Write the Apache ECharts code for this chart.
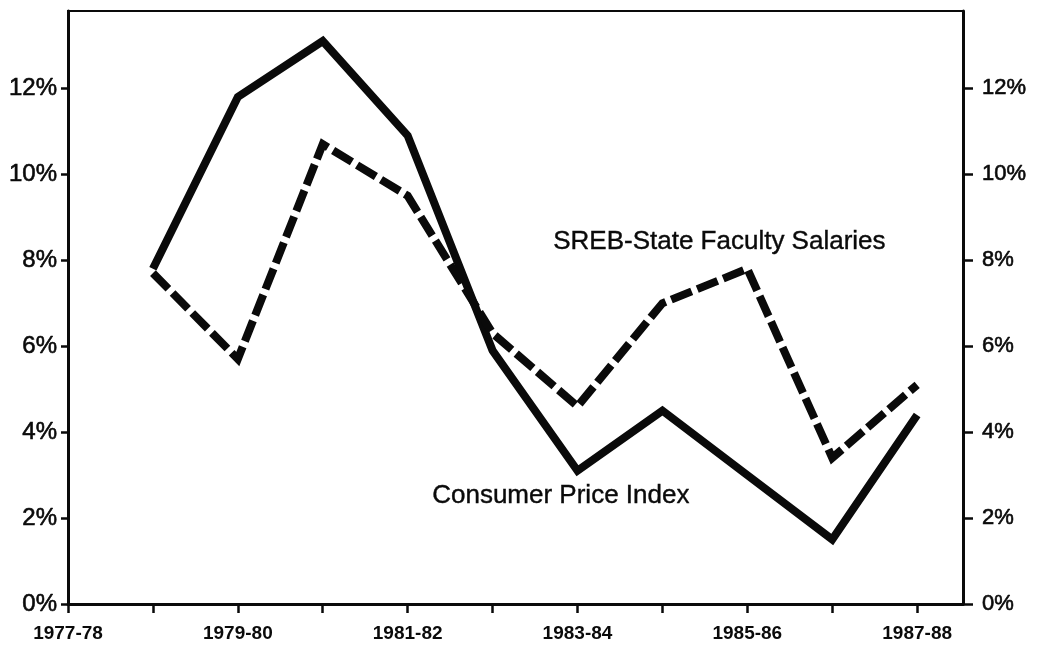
<!DOCTYPE html>
<html>
<head>
<meta charset="utf-8">
<script src="https://cdn.jsdelivr.net/npm/echarts@6/dist/echarts.min.js"></script>
<style>
  html, body { margin: 0; padding: 0; background: #fff; }
  #chart { width: 1039px; height: 647px; }
</style>
</head>
<body>
<div id="chart"></div>
<script>
// ---- data ----
const years = ['1977-78', '1978-79', '1979-80', '1980-81', '1981-82', '1982-83',
               '1983-84', '1984-85', '1985-86', '1986-87', '1987-88'];
const cpi = [null, 7.8, 11.8, 13.1, 10.9, 5.9, 3.1, 4.5, 3.0, 1.5, 4.4];
const facultySalaries = [null, 7.7, 5.7, 10.7, 9.5, 6.3, 4.6, 7.0, 7.8, 3.4, 5.1];
const yTicks = [0, 2, 4, 6, 8, 10, 12];
const xLabelIdx = [0, 2, 4, 6, 8, 10];

const toPairs = arr => arr.map((v, i) => [i, v]).filter(p => p[1] !== null);
const tickIdx = years.map((_, i) => i);

const chart = echarts.init(document.getElementById('chart'), null, { renderer: 'canvas' });
const black = '#0a0a0a';
const font = '"Liberation Sans", Arial, Helvetica, sans-serif';

const yAxisCommon = {
  type: 'value', min: 0, max: 13.8,
  splitLine: { show: false },
  axisLine: { show: true, lineStyle: { color: black, width: 3 } },
};

chart.setOption({
  animation: false,
  backgroundColor: '#fff',
  grid: {
    left: 68, right: 76, top: 11, bottom: 43,
    show: true, borderColor: black, borderWidth: 2, backgroundColor: 'transparent'
  },
  xAxis: {
    type: 'value', min: 0, max: 10.54,
    splitLine: { show: false },
    axisLine: { show: true, onZero: false, lineStyle: { color: black, width: 3 } },
    axisTick: { show: true, length: 9, lineStyle: { color: black, width: 2.5 }, customValues: tickIdx },
    axisLabel: {
      customValues: xLabelIdx,
      formatter: v => years[Math.round(v)] || '',
      margin: 20, color: black,
      fontFamily: font, fontWeight: 'bold', fontSize: 19
    }
  },
  yAxis: [
    Object.assign({}, yAxisCommon, {
      position: 'left',
      axisTick: { show: true, length: 7, lineStyle: { color: black, width: 2.5 }, customValues: yTicks },
      axisLabel: {
        customValues: yTicks, formatter: v => v + '%', margin: 11, color: black,
        fontFamily: font, fontSize: 24, textBorderColor: black, textBorderWidth: 0.6
      }
    }),
    Object.assign({}, yAxisCommon, {
      position: 'right',
      axisTick: { show: true, length: 10, lineStyle: { color: black, width: 2.5 }, customValues: yTicks },
      axisLabel: {
        customValues: yTicks, formatter: v => v + '%', margin: 19, color: black,
        fontFamily: font, fontSize: 22, textBorderColor: black, textBorderWidth: 0.6
      }
    })
  ],
  series: [
    {
      name: 'Consumer Price Index', type: 'line', yAxisIndex: 0,
      data: toPairs(cpi), showSymbol: false, symbol: 'none',
      lineStyle: { color: black, width: 8, join: 'miter', cap: 'butt' }
    },
    {
      name: 'SREB-State Faculty Salaries', type: 'line', yAxisIndex: 0,
      data: toPairs(facultySalaries), showSymbol: false, symbol: 'none',
      lineStyle: { color: black, width: 8, type: [22, 6], join: 'miter', cap: 'butt' }
    }
  ],
  graphic: [
    { type: 'text', left: 553, top: 229,
      style: { text: 'SREB-State Faculty Salaries', fill: black, fontSize: 26,
               fontFamily: font, stroke: black, lineWidth: 0.4 } },
    { type: 'text', left: 432, top: 483,
      style: { text: 'Consumer Price Index', fill: black, fontSize: 26,
               fontFamily: font, stroke: black, lineWidth: 0.4 } }
  ]
});
</script>
</body>
</html>
